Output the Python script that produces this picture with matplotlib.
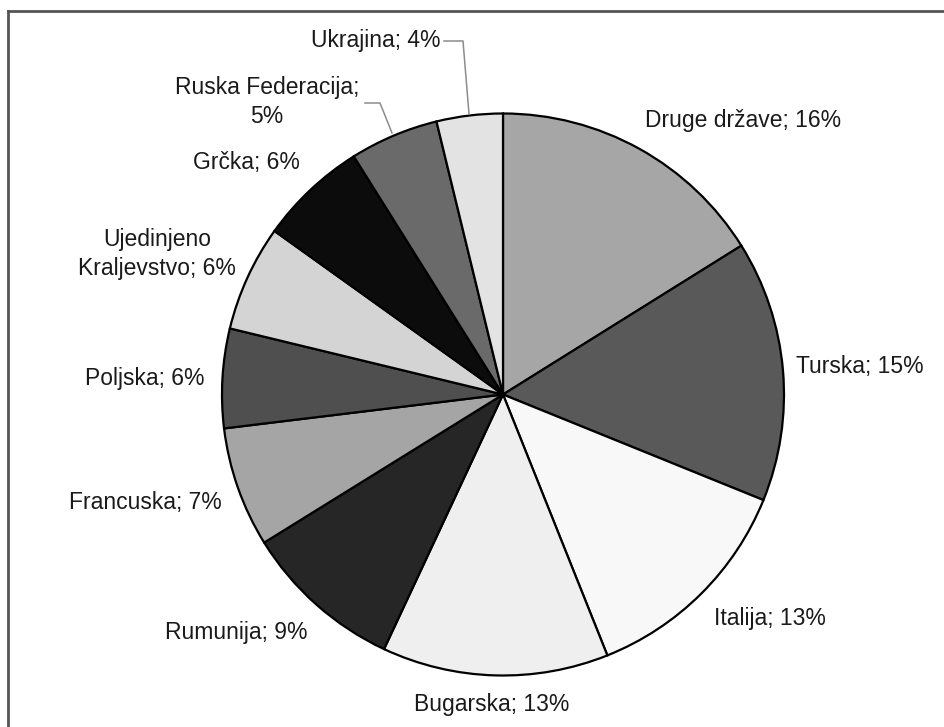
import matplotlib.pyplot as plt
from matplotlib.lines import Line2D

plt.rcParams['font.family'] = ['Liberation Sans', 'DejaVu Sans']

# shares per country (clockwise from 12 o'clock)
countries = ['Druge države', 'Turska', 'Italija', 'Bugarska', 'Rumunija',
             'Francuska', 'Poljska', 'Ujedinjeno\nKraljevstvo', 'Grčka',
             'Ruska Federacija;\n', 'Ukrajina']
shares = [16.1, 15.0, 12.8, 13.0, 9.2, 6.9, 5.7, 6.1, 6.2, 5.1, 3.8]
shades = ['#a6a6a6', '#595959', '#f8f8f8', '#efefef', '#262626', '#a5a5a5',
          '#4f4f4f', '#d4d4d4', '#0c0c0c', '#6a6a6a', '#e3e3e3']

W, H = 944, 727
cx, cy, R = 503, 394.5, 281   # pie centre / radius in pixels

# label centres in pixels
label_px = [(743, 121), (860, 366), (770, 619), (492, 705), (236, 633),
            (145, 502), (145, 378), (157, 254), (246, 163), (267, 102),
            (376, 41)]


def to_data(px, py):
    return (px - cx) / R, (cy - py) / R


fig = plt.figure(figsize=(W / 100, H / 100), dpi=100)
ax = fig.add_axes([0, 0, 1, 1])

ax.pie(shares, colors=shades, startangle=90, counterclock=False,
       wedgeprops=dict(edgecolor='black', linewidth=1.6))
ax.set_xlim(-cx / R, (W - cx) / R)
ax.set_ylim(-(H - cy) / R, cy / R)
ax.set_aspect('auto')
ax.axis('off')

for name, val, (px, py) in zip(countries, shares, label_px):
    pct = f'{round(val):.0f}%'
    if name.endswith(';\n'):
        txt = name + pct
    else:
        txt = f'{name}; {pct}'
    x, y = to_data(px, py)
    ax.text(x, y, txt, ha='center', va='center', fontsize=16.5,
            color='#1a1a1a', linespacing=1.35)

# leader lines for the two small slices
lead_col = '#8c8c8c'
for pts in ([(444, 41), (463, 41), (469, 114)],
            [(365, 103), (380, 103), (392, 133)]):
    xs, ys = zip(*[to_data(px, py) for px, py in pts])
    ax.plot(xs, ys, color=lead_col, lw=1.1)

# outer frame (only top and left edges are inside the image)
fx, fy = 8 / W, 1 - 11 / H
fig.add_artist(Line2D([fx, fx], [0, fy], color='#555555', lw=2))
fig.add_artist(Line2D([fx, 1], [fy, fy], color='#555555', lw=2))

fig.savefig('out.png', dpi=100, facecolor='white')
